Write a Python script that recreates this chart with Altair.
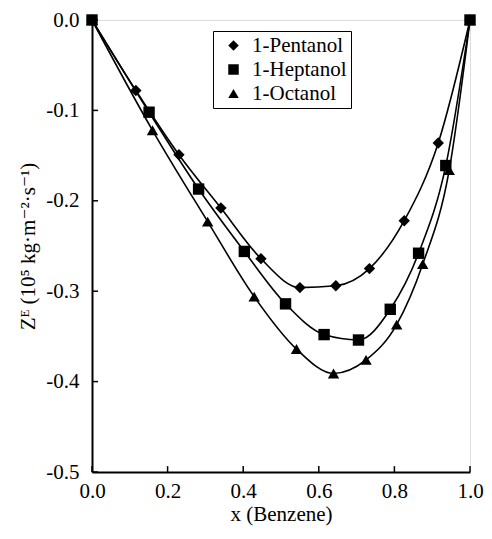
import altair as alt
import pandas as pd

series = ["1-Pentanol", "1-Heptanol", "1-Octanol"]

pent_x = [0.0, 0.116, 0.230, 0.341, 0.447, 0.550, 0.645, 0.734, 0.826, 0.916, 1.0]
pent_y = [0.0, -0.078, -0.149, -0.208, -0.264, -0.296, -0.294, -0.275, -0.222, -0.136, 0.0]

hept_x = [0.0, 0.151, 0.282, 0.403, 0.512, 0.614, 0.705, 0.789, 0.864, 0.936, 1.0]
hept_y = [0.0, -0.102, -0.187, -0.256, -0.314, -0.348, -0.354, -0.320, -0.258, -0.161, 0.0]

oct_x = [0.0, 0.160, 0.306, 0.429, 0.541, 0.639, 0.725, 0.806, 0.875, 0.945, 1.0]
oct_y = [0.0, -0.122, -0.223, -0.306, -0.364, -0.391, -0.376, -0.337, -0.270, -0.166, 0.0]

x_ticks = [0.0, 0.2, 0.4, 0.6, 0.8, 1.0]
y_ticks = [0.0, -0.1, -0.2, -0.3, -0.4, -0.5]

rows = []
for name, xs, ys in [(series[0], pent_x, pent_y), (series[1], hept_x, hept_y), (series[2], oct_x, oct_y)]:
    for a, b in zip(xs, ys):
        rows.append({"x": a, "y": b, "s": name})
df = pd.DataFrame(rows)

FONT = "Liberation Serif, Times New Roman, DejaVu Serif, serif"
W, H = 378, 452

xscale = alt.Scale(domain=[0, 1], nice=False)
yscale = alt.Scale(domain=[-0.5, 0], nice=False)

xaxis = alt.Axis(values=x_ticks, format=".1f", tickSize=0, labelPadding=8, labelFlush=False,
                 labelFont=FONT, labelFontSize=21, labelColor="black",
                 domainColor="black", domainWidth=2, grid=False,
                 title="x (Benzene)", titleFont=FONT, titleFontSize=21,
                 titleFontWeight="normal", titleColor="black", titlePadding=2)
yaxis = alt.Axis(values=y_ticks, tickSize=0, labelPadding=13, labelFlush=False,
                 labelExpr="datum.value == 0 ? '0.0' : '-' + format(abs(datum.value), '.1f')",
                 labelFont=FONT, labelFontSize=21, labelColor="black",
                 domainColor="black", domainWidth=2, grid=False,
                 title="Zᴱ (10⁵ kg·m⁻²·s⁻¹)", titleFont=FONT, titleFontSize=21,
                 titleFontWeight="normal", titleColor="black",
                 titleX=-64, titleY=H / 2, titleAngle=270,
                 titleAlign="center", titleBaseline="middle")

lines = alt.Chart(df).mark_line(color="black", strokeWidth=1.6, interpolate="monotone").encode(
    x=alt.X("x:Q", scale=xscale, axis=xaxis),
    y=alt.Y("y:Q", scale=yscale, axis=yaxis),
    detail="s:N",
)

points = alt.Chart(df).mark_point(filled=True, opacity=1, color="black", size=130).encode(
    x=alt.X("x:Q", scale=xscale),
    y=alt.Y("y:Q", scale=yscale),
    shape=alt.Shape("s:N", sort=series,
                    scale=alt.Scale(domain=series, range=["diamond", "square", "triangle-up"]),
                    legend=alt.Legend(title=None, orient="none", legendX=121, legendY=11,
                                      labelFont=FONT, labelFontSize=21, labelColor="black",
                                      symbolFillColor="black", symbolStrokeColor="black",
                                      symbolSize=110, symbolOffset=6,
                                      strokeColor="black", fillColor="white",
                                      padding=4, rowPadding=2, labelOffset=8,
                                      offset=0)),
)

ytick_df = pd.DataFrame({"y": y_ticks, "x0": [0.0] * len(y_ticks), "x1": [0.016] * len(y_ticks)})
xtick_df = pd.DataFrame({"x": x_ticks, "y0": [-0.5] * len(x_ticks), "y1": [-0.4935] * len(x_ticks)})

yticks = alt.Chart(ytick_df).mark_rule(color="black", strokeWidth=1.5).encode(
    x=alt.X("x0:Q", scale=xscale), x2="x1:Q", y=alt.Y("y:Q", scale=yscale))
xticks = alt.Chart(xtick_df).mark_rule(color="black", strokeWidth=1.5).encode(
    x=alt.X("x:Q", scale=xscale), y=alt.Y("y0:Q", scale=yscale), y2="y1:Q")

chart = alt.layer(yticks, xticks, lines, points).properties(
    width=W, height=H,
    autosize=alt.AutoSizeParams(type="none"),
    padding={"left": 84, "top": 12, "right": 14, "bottom": 58},
).configure_view(stroke="black", strokeWidth=2).configure(background="white")

chart.save("out.html", embed_options={"renderer": "svg", "actions": False})
